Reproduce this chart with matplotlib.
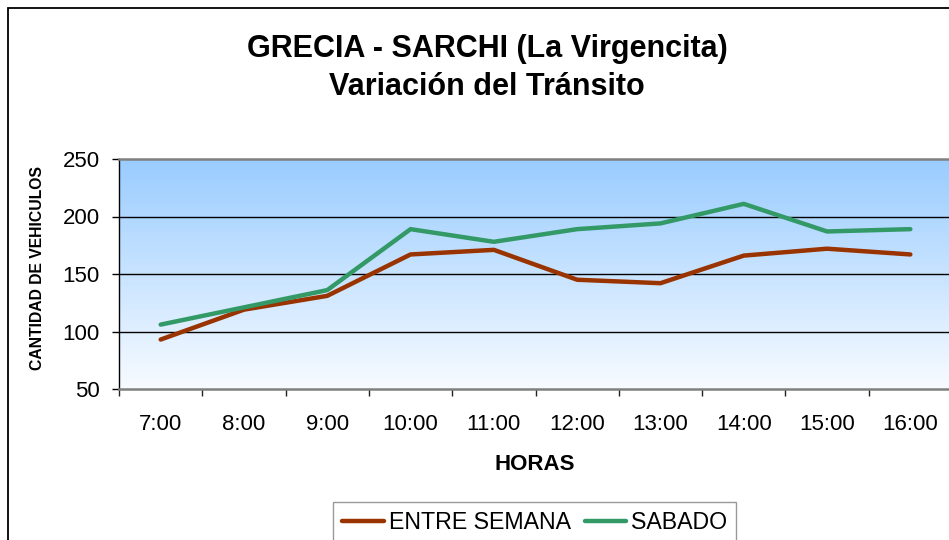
"""Traffic variation chart, Grecia - Sarchi (La Virgencita)."""

from __future__ import annotations

import matplotlib

matplotlib.use("Agg")
import matplotlib.pyplot as plt
import numpy as np
from matplotlib.colors import LinearSegmentedColormap
from matplotlib.patches import Rectangle


HOURS = ["7:00", "8:00", "9:00", "10:00", "11:00", "12:00", "13:00", "14:00", "15:00", "16:00"]
ENTRE_SEMANA = [93, 119, 131, 167, 171, 145, 142, 166, 172, 167]
SABADO = [106, 121, 136, 189, 178, 189, 194, 211, 187, 189]
Y_TICKS = [50, 100, 150, 200, 250]

W, H = 949, 540


def px_x(x: float) -> float:
    return x / W


def px_y(y: float) -> float:
    return 1 - y / H


def main() -> None:
    plt.rcParams["font.family"] = ["Liberation Sans", "DejaVu Sans"]
    fig = plt.figure(figsize=(W / 100, H / 100), dpi=100)

    # chart area border (runs off the right/bottom edge like the source)
    fig.patches.append(
        Rectangle((px_x(8), px_y(560)), 2, px_y(8) - px_y(560), transform=fig.transFigure,
                  fill=False, edgecolor="black", linewidth=1.3)
    )

    left, right, top, bottom = px_x(119), px_x(952), px_y(159), px_y(389)
    ax = fig.add_axes([left, bottom, right - left, top - bottom])

    xs = np.arange(len(HOURS))
    ax.set_xlim(-0.5, len(HOURS) - 0.5)
    ax.set_ylim(50, 250)

    cmap = LinearSegmentedColormap.from_list("sky", ["#f8fbff", "#99ccff"])
    grad = np.linspace(0, 1, 256).reshape(-1, 1)
    ax.imshow(grad, extent=(-0.5, len(HOURS) - 0.5, 50, 250), origin="lower",
              aspect="auto", cmap=cmap, zorder=0)

    for yv in Y_TICKS[1:-1]:
        ax.axhline(yv, color="black", linewidth=1.0, zorder=1)

    ax.plot(xs, ENTRE_SEMANA, color="#993300", linewidth=3.2, label="ENTRE SEMANA",
            solid_capstyle="round", zorder=3)
    ax.plot(xs, SABADO, color="#339966", linewidth=3.2, label="SABADO",
            solid_capstyle="round", zorder=3)

    ax.set_yticks(Y_TICKS)
    ax.tick_params(axis="y", direction="out", length=5, width=1, labelsize=16, pad=9)
    ax.set_xticks(xs)
    ax.set_xticklabels(HOURS)
    ax.set_xticks(np.arange(-0.5, len(HOURS)), minor=True)
    ax.tick_params(axis="x", which="major", length=0, labelsize=16, pad=18)
    ax.tick_params(axis="x", which="minor", direction="out", length=5, width=1, color="#222222")

    ax.spines["left"].set_color("black")
    ax.spines["left"].set_linewidth(1.0)
    ax.spines["bottom"].set_color("#808080")
    ax.spines["bottom"].set_linewidth(1.8)
    ax.spines["top"].set_color("#808080")
    ax.spines["top"].set_linewidth(1.8)
    ax.spines["right"].set_visible(False)

    fig.text(px_x(535), px_y(464), "HORAS", ha="center", va="center",
             fontsize=16, fontweight="bold")
    fig.text(px_x(38), px_y(268), "CANTIDAD DE VEHICULOS", ha="center", va="center",
             rotation=90, fontsize=11.3, fontweight="bold")
    fig.text(px_x(487), px_y(68), "GRECIA - SARCHI (La Virgencita)\nVariación del Tránsito",
             ha="center", va="center", fontsize=22, fontweight="bold", linespacing=1.32)

    handles, labels = ax.get_legend_handles_labels()
    leg = fig.legend(handles, labels, loc="upper left", bbox_to_anchor=(px_x(333), px_y(502)),
                     ncol=2, fontsize=16.7, frameon=True, fancybox=False, handlelength=1.8,
                     handletextpad=0.2, columnspacing=0.6, borderpad=0.4, borderaxespad=0)
    leg.get_frame().set_edgecolor("#808080")
    leg.get_frame().set_linewidth(1.0)

    fig.savefig("out.png", dpi=100)
    plt.close(fig)


if __name__ == "__main__":
    main()
